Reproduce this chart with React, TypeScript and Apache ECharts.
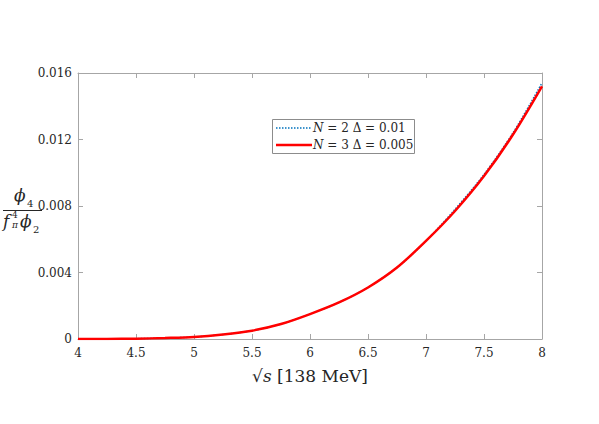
import React, { useEffect, useRef } from "react";
import * as echarts from "echarts";

const xValues = [4, 4.25, 4.5, 4.75, 5, 5.25, 5.5, 5.75, 6, 6.25, 6.5, 6.75, 7, 7.25, 7.5, 7.75, 8];
const seriesN2 = [0, 0.000003, 0.00002, 0.00006, 0.00012, 0.00027, 0.0005, 0.0009, 0.0015, 0.0022, 0.0031, 0.0043, 0.0059, 0.0078, 0.0099, 0.0124, 0.0154];
const seriesN3 = [0, 0.000003, 0.00002, 0.00006, 0.00012, 0.00027, 0.0005, 0.0009, 0.0015, 0.0022, 0.0031, 0.0043, 0.0059, 0.0077, 0.0098, 0.0123, 0.0152];
const xTicks = { min: 4, max: 8, interval: 0.5 };
const yTicks = { min: 0, max: 0.016, interval: 0.004 };
const legendLabels = ["{i|N} = 2 Δ = 0.01", "{i|N} = 3 Δ = 0.005"];

const FONT = "DejaVu Serif";
const AXIS_COLOR = "#a6a6a6";
const TEXT_COLOR = "#262626";
const BLUE = "#0072BD";
const RED = "#ff0000";

export default function App() {
  const ref = useRef<HTMLDivElement>(null);
  useEffect(() => {
    if (!ref.current) return;
    const chart = echarts.init(ref.current, undefined, { renderer: "svg" });
    const pairs = (ys: number[]) => xValues.map((x, i) => [x, ys[i]]);
    const axisCommon = {
      axisLine: { show: true, onZero: false, lineStyle: { color: AXIS_COLOR, width: 1 } },
      axisTick: { show: true, inside: true, length: 5, lineStyle: { color: AXIS_COLOR } },
      splitLine: { show: false },
    };
    const txt = (text: string, x: number, y: number, size: number, italic: boolean) => ({
      type: "text",
      x,
      y,
      style: {
        text,
        fontFamily: FONT,
        fontSize: size,
        fontStyle: italic ? "italic" : "normal",
        fill: TEXT_COLOR,
      },
    });
    const richText = (text: string, x: number, y: number) => ({
      type: "text",
      x,
      y,
      style: {
        text,
        fontFamily: FONT,
        fontSize: 12,
        fill: TEXT_COLOR,
        verticalAlign: "middle",
        rich: {
          i: { fontFamily: FONT, fontSize: 12, fontStyle: "italic", fill: TEXT_COLOR },
        },
      },
    });
    chart.setOption({
      animation: false,
      backgroundColor: "#ffffff",
      textStyle: { fontFamily: FONT, color: TEXT_COLOR },
      grid: { left: 78, right: 57, top: 73, bottom: 85, containLabel: false },
      xAxis: [
        {
          type: "value",
          ...xTicks,
          ...axisCommon,
          axisLabel: { color: TEXT_COLOR, fontFamily: FONT, fontSize: 12, margin: 8 },
          name: "{r|√}{i|s} [138 MeV]",
          nameLocation: "middle",
          nameGap: 28,
          nameTextStyle: {
            color: TEXT_COLOR,
            fontFamily: FONT,
            fontSize: 17,
            rich: {
              r: { fontFamily: FONT, fontSize: 17, color: TEXT_COLOR },
              i: { fontFamily: FONT, fontSize: 17, fontStyle: "italic", color: TEXT_COLOR },
            },
          },
        },
        {
          type: "value",
          position: "top",
          ...xTicks,
          ...axisCommon,
          axisLabel: { show: false },
        },
      ],
      yAxis: [
        {
          type: "value",
          ...yTicks,
          ...axisCommon,
          axisLabel: {
            color: TEXT_COLOR,
            fontFamily: FONT,
            fontSize: 12,
            margin: 6,
            formatter: (v: number) => (v === 0 ? "0" : v.toFixed(3)),
          },
        },
        {
          type: "value",
          position: "right",
          ...yTicks,
          ...axisCommon,
          axisLabel: { show: false },
        },
      ],
      series: [
        {
          name: "N2",
          type: "line",
          data: pairs(seriesN2),
          showSymbol: false,
          symbol: "none",
          smooth: 0.3,
          color: BLUE,
          lineStyle: { color: BLUE, width: 1.5, type: "dotted" },
          z: 2,
        },
        {
          name: "N3",
          type: "line",
          data: pairs(seriesN3),
          showSymbol: false,
          symbol: "none",
          smooth: 0.3,
          color: RED,
          lineStyle: { color: RED, width: 2.5 },
          z: 3,
        },
      ],
      graphic: [
        {
          type: "rect",
          shape: { x: 272.5, y: 119.5, width: 142, height: 34 },
          style: { fill: "#ffffff", stroke: "#8c8c8c", lineWidth: 1 },
        },
        {
          type: "line",
          shape: { x1: 276, y1: 128, x2: 312, y2: 128 },
          style: { stroke: BLUE, lineWidth: 1.5, lineDash: [1.5, 1.5] },
        },
        {
          type: "line",
          shape: { x1: 276, y1: 145, x2: 312, y2: 145 },
          style: { stroke: RED, lineWidth: 2.5 },
        },
        richText(legendLabels[0], 313, 128),
        richText(legendLabels[1], 313, 145),
        txt("ϕ", 14, 186, 17, true),
        txt("4", 27, 198, 10, false),
        {
          type: "line",
          shape: { x1: 3, y1: 210.5, x2: 42, y2: 210.5 },
          style: { stroke: TEXT_COLOR, lineWidth: 1 },
        },
        txt("f", 3, 212, 17, true),
        txt("4", 12, 210, 9, false),
        txt("π", 12, 220, 9, true),
        txt("ϕ", 20, 212, 17, true),
        txt("2", 33, 224, 10, false),
      ],
    });
    return () => chart.dispose();
  }, []);
  return <div ref={ref} style={{ width: 599, height: 424, position: "absolute", left: 0, top: 0 }} />;
}
